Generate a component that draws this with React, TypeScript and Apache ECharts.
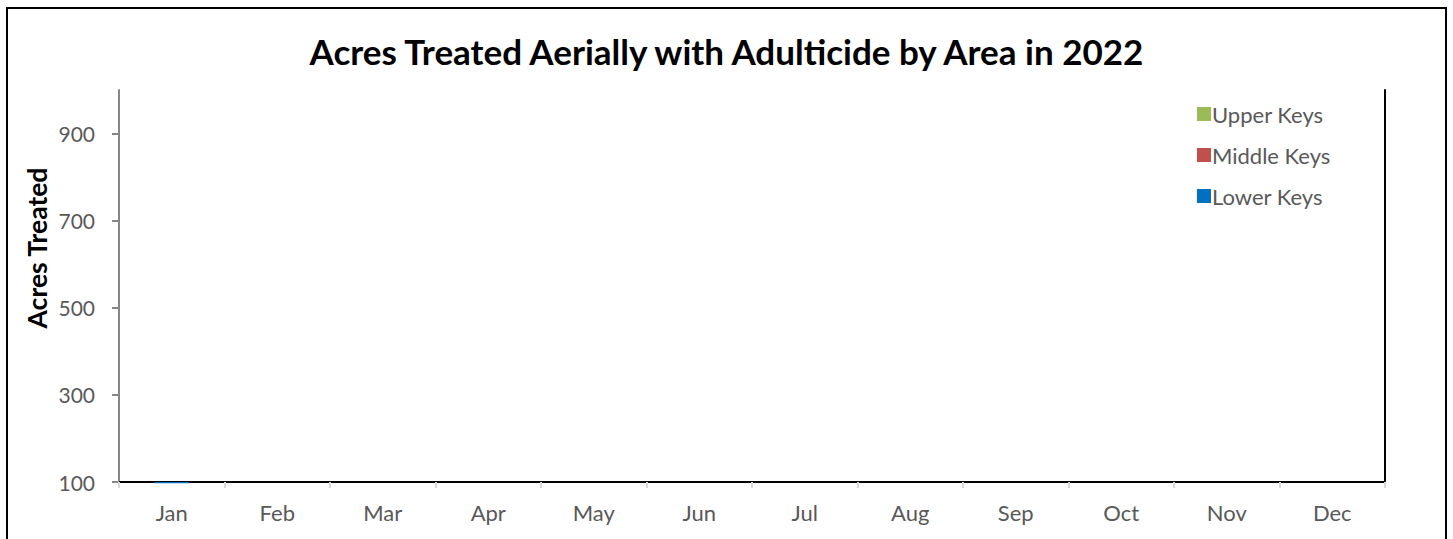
import React, { useEffect, useRef } from "react";
import * as echarts from "echarts";

const months = ["Jan", "Feb", "Mar", "Apr", "May", "Jun", "Jul", "Aug", "Sep", "Oct", "Nov", "Dec"];
const lowerKeys: (number | null)[] = [97, null, null, null, null, null, null, null, null, null, null, null];
const middleKeys: (number | null)[] = [null, null, null, null, null, null, null, null, null, null, null, null];
const upperKeys: (number | null)[] = [null, null, null, null, null, null, null, null, null, null, null, null];
const axisBase = 100;
const axisTop = 1000;
const axisStep = 200;

const FONT = "Lato, 'Noto Sans', sans-serif";

export default function App() {
  const ref = useRef<HTMLDivElement>(null);
  useEffect(() => {
    if (!ref.current) return;
    const chart = echarts.init(ref.current, undefined, { renderer: "svg" });
    const shift = (arr: (number | null)[]) => arr.map((v) => (v == null ? null : v - axisBase));
    const barCommon = {
      type: "bar" as const,
      stack: "total",
      barWidth: 34,
      clip: false,
      xAxisIndex: 0,
      yAxisIndex: 0,
    };
    chart.setOption({
      animation: false,
      backgroundColor: "#ffffff",
      title: {
        text: "Acres Treated Aerially with Adulticide by Area in 2022",
        left: "center",
        top: 28,
        textStyle: { fontFamily: FONT, fontWeight: "bold", fontSize: 35, color: "#000000" },
      },
      legend: {
        orient: "vertical",
        left: 1192,
        top: 98,
        itemWidth: 14,
        itemHeight: 14,
        itemGap: 19,
        icon: "rect",
        data: ["Upper Keys", "Middle Keys", "Lower Keys"],
        textStyle: { fontFamily: FONT, fontSize: 22, color: "#595959", padding: [0, 0, 0, -4] },
      },
      grid: { left: 119, right: 68, top: 90, bottom: 57, containLabel: false },
      xAxis: [
        {
          type: "category",
          data: months,
          boundaryGap: true,
          axisLine: { lineStyle: { color: "#D9D9D9", width: 2 } },
          axisTick: { show: true, length: 6, lineStyle: { color: "#D9D9D9", width: 2 } },
          axisLabel: { fontFamily: FONT, fontSize: 22, color: "#595959", margin: 19 },
        },
        {
          type: "category",
          data: months,
          position: "top",
          axisLine: { show: true, lineStyle: { color: "#000000", width: 2 } },
          axisTick: { show: false },
          axisLabel: { show: false },
        },
      ],
      yAxis: [
        {
          type: "value",
          min: 0,
          max: axisTop - axisBase,
          interval: axisStep,
          splitLine: { show: false },
          axisLine: { show: true, lineStyle: { color: "#868686", width: 2 } },
          axisTick: { show: true, length: 7, lineStyle: { color: "#868686", width: 2 } },
          axisLabel: {
            fontFamily: FONT,
            fontSize: 21,
            color: "#595959",
            margin: 24,
            showMaxLabel: false,
            formatter: (v: number) => String(v + axisBase),
          },
        },
        {
          type: "value",
          position: "right",
          min: 0,
          max: axisTop - axisBase,
          interval: axisStep,
          splitLine: { show: false },
          axisLine: { show: true, lineStyle: { color: "#000000", width: 2 } },
          axisTick: { show: false },
          axisLabel: { show: false },
        },
      ],
      graphic: [
        {
          type: "rect",
          shape: { x: 7, y: 8, width: 1439, height: 600 },
          style: { fill: "none", stroke: "#000000", lineWidth: 2 },
          silent: true,
        },
        {
          type: "text",
          x: 37,
          y: 248,
          rotation: Math.PI / 2,
          style: {
            text: "Acres Treated",
            fontFamily: FONT,
            fontWeight: "bold",
            fontSize: 26.5,
            fill: "#000000",
            align: "center",
            verticalAlign: "middle",
          },
        },
      ],
      series: [
        { ...barCommon, name: "Lower Keys", data: shift(lowerKeys), itemStyle: { color: "#0070C0" } },
        { ...barCommon, name: "Middle Keys", data: shift(middleKeys), itemStyle: { color: "#C0504D" } },
        { ...barCommon, name: "Upper Keys", data: shift(upperKeys), itemStyle: { color: "#9BBB59" } },
      ],
    });
    return () => chart.dispose();
  }, []);
  return <div ref={ref} style={{ position: "fixed", left: 0, top: 0, width: 1453, height: 539 }} />;
}
